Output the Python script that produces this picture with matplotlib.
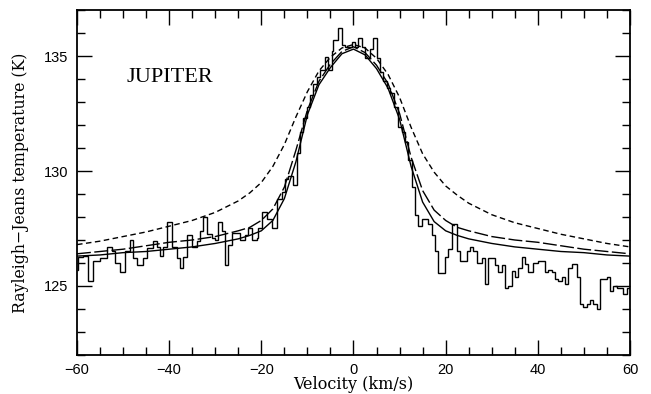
import matplotlib
matplotlib.use("Agg")
import matplotlib.pyplot as plt
from matplotlib.ticker import MultipleLocator

# ---- observed spectrum (step histogram): channel edges (km/s) and temperatures (K)
vel_edges = [-60, -59.8, -58.7, -57.6, -56.5, -55, -53.5, -52.4, -51.8, -50.7, -49.6,
             -48.5, -47.8, -47, -45.7, -44.8, -43.5, -42.6, -42, -41.3, -40.5,
             -39.4, -38.3, -37.6, -37, -36.1, -35, -34, -33.3, -32.7, -31.8,
             -30.7, -30, -29.4, -28.5, -27.9, -27.2, -26.4, -24.6, -23.5, -22.9,
             -22, -21, -20.7, -19.9, -18.8, -17.7, -16.6, -15.5, -14.9, -14.2,
             -13.1, -12.3, -11.6, -11, -10.1, -9.4, -8.8, -7.9, -7.3, -6.2,
             -5.5, -4.7, -4.4, -3.4, -2.5, -1.8, -0.3, 0.3, 1, 1.8,
             2.5, 3.6, 4.2, 5.1, 5.8, 6.4, 7.3, 7.9, 8.7, 9.6,
             10.5, 11.2, 11.8, 12.7, 13.4, 14, 14.9, 16.2, 17, 17.7,
             18.3, 19.9, 20.5, 21.4, 22.5, 23.1, 24.6, 25.3, 25.9, 26.8,
             27.9, 28.5, 29.2, 30.7, 31.4, 32.2, 32.9, 33.5, 34.4, 35,
             35.7, 36.6, 37.2, 37.9, 39, 40, 41.6, 42.2, 43, 43.7,
             44.4, 45.3, 45.9, 46.6, 47.4, 48.5, 49.2, 49.8, 50.7, 51.3,
             52, 52.8, 53.5, 55, 55.7, 56.3, 57.2, 58.5, 59.3, 60]
temp_obs = [125.7, 126.25, 126.3, 125.2, 126.1, 126.2, 126.7, 126.5, 126.0, 125.6,
            126.5, 127.0, 126.2, 125.9, 126.2, 126.65, 126.97, 126.7, 126.3, 126.7,
            127.8, 126.7, 126.2, 125.8, 126.26, 127.2, 126.7, 126.96, 127.4, 128.0,
            127.26, 127.1, 127.0, 127.8, 127.4, 125.9, 126.8, 127.3, 127.0, 127.2,
            127.5, 127.0, 127.1, 127.5, 128.2, 127.9, 127.5, 128.8, 129.1, 129.65,
            129.8, 129.4, 130.8, 131.7, 132.3, 132.8, 133.3, 133.8, 134.1, 134.4,
            134.96, 134.4, 135.2, 135.7, 136.2, 135.5, 135.4, 135.6, 135.4, 135.8,
            135.4, 134.9, 135.3, 135.8, 134.9, 134.3, 133.9, 133.6, 133.4, 132.8,
            131.9, 131.7, 131.26, 130.5, 129.3, 128.1, 127.6, 127.9, 127.7, 127.2,
            126.5, 125.55, 126.26, 126.6, 127.7, 126.5, 126.1, 126.5, 126.7, 126.5,
            126.0, 126.2, 125.1, 126.2, 125.9, 125.6, 125.9, 124.9, 125.0, 125.65,
            125.4, 125.8, 126.26, 125.95, 125.6, 126.0, 126.1, 125.6, 125.7, 125.6,
            125.3, 125.2, 125.4, 125.1, 125.8, 125.95, 125.4, 124.2, 124.1, 124.2,
            124.4, 124.2, 124.0, 125.3, 125.4, 124.8, 125.0, 124.9, 124.65, 124.9]

# ---- model curves
vel_model = [-60, -55, -50, -45, -40, -35, -30, -25, -22.5, -20, -17.5, -15, -12.5,
             -10, -7.5, -5, -2.5, 0, 2.5, 5, 7.5, 10, 12.5, 15, 17.5, 20, 22.5,
             25, 30, 35, 40, 45, 50, 55, 60]
model_solid = [126.3, 126.35, 126.45, 126.5, 126.6, 126.7, 126.85, 127.05, 127.2, 127.4,
               127.85, 128.8, 130.4, 132.45, 133.75, 134.5, 135.1, 135.3, 135.05, 134.45,
               133.6, 132.25, 130.2, 128.65, 127.8, 127.4, 127.2, 127.05, 126.85, 126.7,
               126.6, 126.5, 126.45, 126.35, 126.3]
model_longdash = [126.4, 126.5, 126.6, 126.75, 126.9, 127.0, 127.15, 127.4, 127.55, 127.85,
                  128.35, 129.3, 130.9, 132.65, 133.9, 134.65, 135.2, 135.4, 135.15, 134.6,
                  133.8, 132.5, 130.6, 129.15, 128.3, 127.85, 127.55, 127.4, 127.15, 127.0,
                  126.9, 126.75, 126.6, 126.5, 126.4]
model_shortdash = [126.8, 126.95, 127.15, 127.35, 127.6, 127.85, 128.2, 128.7, 129.05, 129.5,
                   130.2, 131.15, 132.35, 133.45, 134.35, 134.95, 135.35, 135.5, 135.35, 134.9,
                   134.2, 133.2, 131.9, 130.75, 129.95, 129.35, 128.95, 128.6, 128.1, 127.75,
                   127.5, 127.25, 127.05, 126.85, 126.7]

x_ticks = [-60, -40, -20, 0, 20, 40, 60]
y_ticks = [125, 130, 135]

fig = plt.figure(figsize=(6.51, 3.94), dpi=100)
ax = fig.add_axes([0.1183, 0.0990, 0.8494, 0.8756])

ax.stairs(temp_obs, vel_edges, color="black", lw=1.0, baseline=None)
ax.plot(vel_model, model_solid, color="black", lw=1.0)
ax.plot(vel_model, model_longdash, color="black", lw=1.0, dashes=(10, 2.5))
ax.plot(vel_model, model_shortdash, color="black", lw=1.0, dashes=(4, 2.5))

ax.set_xlim(-60, 60)
ax.set_ylim(122, 137)
ax.set_xticks(x_ticks)
ax.set_yticks(y_ticks)
ax.xaxis.set_minor_locator(MultipleLocator(5))
ax.yaxis.set_minor_locator(MultipleLocator(1))
ax.tick_params(which="both", direction="in", top=True, right=True, width=1.0)
ax.tick_params(which="major", length=10.5, pad=6)
ax.tick_params(which="minor", length=5.5)
for lab in ax.get_xticklabels() + ax.get_yticklabels():
    lab.set_fontfamily("Liberation Sans")
    lab.set_fontsize(10.5)
for sp in ax.spines.values():
    sp.set_linewidth(1.3)

ax.set_xlabel("Velocity (km/s)", fontfamily="DejaVu Serif", fontsize=11.5, labelpad=-1)
ax.set_ylabel("Rayleigh\u2212Jeans temperature (K)", fontfamily="DejaVu Serif",
              fontsize=11.3, labelpad=11)
ax.text(-49.2, 134.05, "JUPITER", fontfamily="Liberation Serif", fontsize=16,
        ha="left", va="center")

fig.savefig("out.png", dpi=100)
